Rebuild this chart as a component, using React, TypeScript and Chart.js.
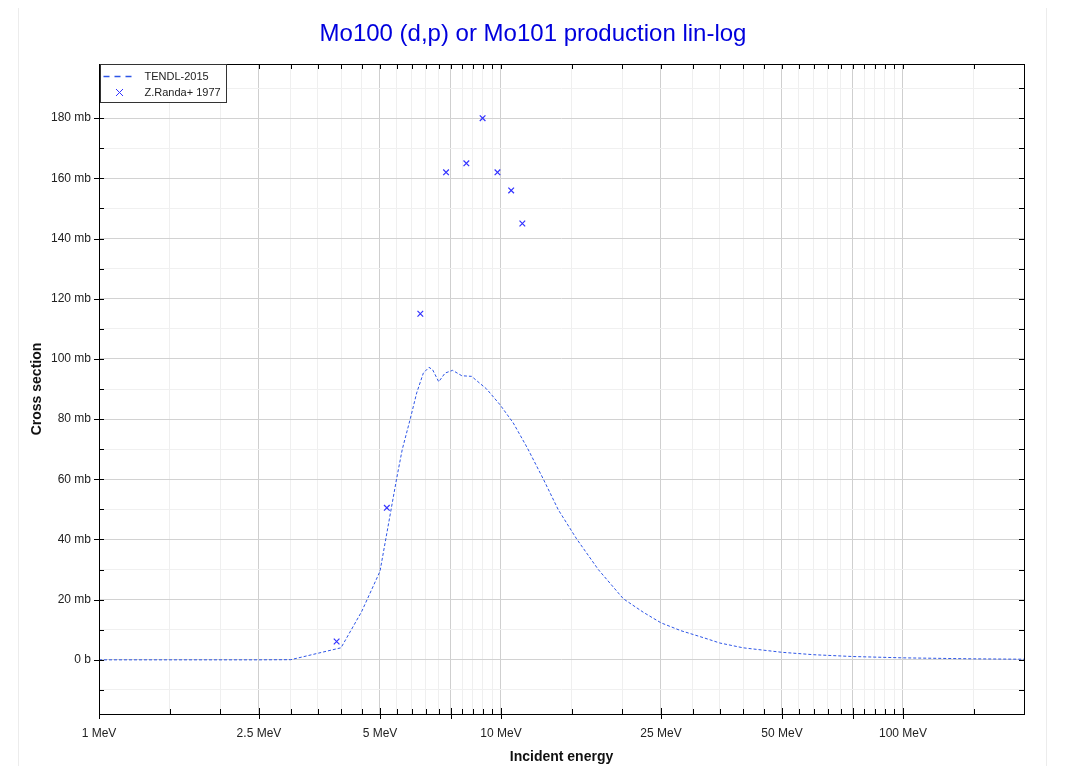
import React, { useEffect, useRef } from 'react';
import { Chart, registerables } from 'chart.js';

Chart.register(...registerables);

const FONT = '"Liberation Sans", Arial, Helvetica, sans-serif';

// TENDL-2015 evaluated curve (energy in MeV, cross section in mb)
const tendlEnergy = [1, 2, 2.5, 3.0, 4.0, 4.5, 5.0, 5.5, 5.68, 5.94, 6.17, 6.41, 6.62, 6.76, 7.0, 7.26, 7.58, 7.99, 8.45, 9.21, 9.94, 10.73, 11.63, 12.74, 13.88, 15.42, 17.46, 20.15, 22.6, 25, 28, 32, 35, 40, 50, 60, 75, 100, 150, 200];
const tendlXs = [0, 0, 0, 0.05, 4.0, 16, 29.4, 60.2, 69.9, 79.8, 88.7, 95.3, 97.2, 96.4, 92.4, 95.3, 96.2, 94.4, 94.2, 90.0, 84.8, 78.7, 70.4, 60.1, 49.9, 40.2, 30.0, 20.3, 15.8, 12.3, 9.7, 7.3, 5.6, 4.0, 2.5, 1.7, 1.1, 0.66, 0.33, 0.2];

// Z.Randa+ 1977 experimental points
const randaEnergy = [3.9, 5.2, 6.3, 7.3, 8.2, 9.0, 9.8, 10.6, 11.3];
const randaXs = [6.1, 50.5, 115, 162, 165, 180, 162, 156, 145];

// Axis ticks
const xTickValues = [1, 1.5, 2, 2.5, 3, 3.5, 4, 4.5, 5, 5.5, 6, 6.5, 7, 7.5, 8, 8.5, 9, 9.5, 10, 15, 20, 25, 30, 35, 40, 45, 50, 55, 60, 65, 70, 75, 80, 85, 90, 95, 100, 150];
const xMajorValues = [1, 2.5, 5, 7.5, 10, 25, 50, 75, 100];
const xLabelValues = [1, 2.5, 5, 10, 25, 50, 100];
const yTickValues = [-10, 0, 10, 20, 30, 40, 50, 60, 70, 80, 90, 100, 110, 120, 130, 140, 150, 160, 170, 180, 190];
const yLabelValues = [0, 20, 40, 60, 80, 100, 120, 140, 160, 180];

const TITLE = 'Mo100 (d,p) or Mo101 production lin-log';
const SERIES_NAMES = ['TENDL-2015', 'Z.Randa+ 1977'];

const LINE_COLOR = 'rgb(45,85,230)';
const MARK_COLOR = 'rgb(50,50,255)';

const isIn = (arr: number[], v: number) => arr.some((a) => Math.abs(a - v) < 1e-6);

const framePlugin = {
  id: 'frameTicks',
  afterDraw(chart: any) {
    const { ctx, chartArea } = chart;
    const { left, right, top, bottom } = chartArea;
    const xs = chart.scales.x;
    const ys = chart.scales.y;
    ctx.save();
    ctx.strokeStyle = '#000';
    ctx.lineWidth = 1;
    ctx.beginPath();
    xTickValues.forEach((v) => {
      const px = Math.round(xs.getPixelForValue(v)) + 0.5;
      if (isIn(xMajorValues, v)) {
        ctx.moveTo(px, bottom - 6);
        ctx.lineTo(px, bottom + 5);
      } else {
        ctx.moveTo(px, bottom - 5);
        ctx.lineTo(px, bottom);
      }
      ctx.moveTo(px, top);
      ctx.lineTo(px, top + 5);
    });
    yTickValues.forEach((v) => {
      const py = Math.round(ys.getPixelForValue(v)) + 0.5;
      if (isIn(yLabelValues, v)) {
        ctx.moveTo(left - 5, py);
        ctx.lineTo(left + 5, py);
      } else {
        ctx.moveTo(left, py);
        ctx.lineTo(left + 5, py);
      }
      ctx.moveTo(right - 5, py);
      ctx.lineTo(right, py);
    });
    ctx.stroke();
    ctx.strokeRect(Math.round(left) + 0.5, Math.round(top) + 0.5, Math.round(right - left), Math.round(bottom - top));

    // legend box
    const lx = Math.round(left) + 1.5;
    const ly = Math.round(top) + 0.5;
    ctx.fillStyle = '#fff';
    ctx.fillRect(lx, ly, 126, 38);
    ctx.strokeStyle = '#333';
    ctx.strokeRect(lx, ly, 126, 38);
    ctx.strokeStyle = LINE_COLOR;
    ctx.lineWidth = 1.5;
    ctx.setLineDash([6, 5]);
    ctx.beginPath();
    ctx.moveTo(lx + 3, ly + 12);
    ctx.lineTo(lx + 31, ly + 12);
    ctx.stroke();
    ctx.setLineDash([]);
    ctx.strokeStyle = MARK_COLOR;
    ctx.lineWidth = 1;
    const cx = lx + 19;
    const cy = ly + 28;
    ctx.beginPath();
    ctx.moveTo(cx - 3.5, cy - 3.5);
    ctx.lineTo(cx + 3.5, cy + 3.5);
    ctx.moveTo(cx + 3.5, cy - 3.5);
    ctx.lineTo(cx - 3.5, cy + 3.5);
    ctx.stroke();
    ctx.fillStyle = '#222';
    ctx.font = '11px ' + FONT;
    ctx.textBaseline = 'middle';
    ctx.textAlign = 'left';
    ctx.fillText(SERIES_NAMES[0], lx + 44, ly + 12);
    ctx.fillText(SERIES_NAMES[1], lx + 44, ly + 28);
    ctx.restore();
  },
};

export default function App() {
  const canvasRef = useRef<HTMLCanvasElement | null>(null);

  useEffect(() => {
    const canvas = canvasRef.current;
    if (!canvas) return;
    Chart.defaults.font.family = FONT;
    const chart = new Chart(canvas, {
      type: 'scatter',
      data: {
        datasets: [
          {
            label: SERIES_NAMES[0],
            data: tendlEnergy.map((e, i) => ({ x: e, y: tendlXs[i] })),
            showLine: true,
            borderColor: LINE_COLOR,
            backgroundColor: LINE_COLOR,
            borderWidth: 1,
            borderDash: [3, 2],
            pointRadius: 0,
            fill: false,
            order: 2,
          },
          {
            label: SERIES_NAMES[1],
            data: randaEnergy.map((e, i) => ({ x: e, y: randaXs[i] })),
            showLine: false,
            pointStyle: 'crossRot',
            pointRadius: 4,
            borderColor: MARK_COLOR,
            backgroundColor: MARK_COLOR,
            borderWidth: 1.2,
            order: 1,
          },
        ],
      },
      options: {
        animation: false,
        responsive: false,
        devicePixelRatio: 1,
        layout: { padding: { left: 0, right: 5, top: 0, bottom: 0 } },
        plugins: {
          legend: { display: false },
          tooltip: { enabled: false },
          title: {
            display: true,
            text: TITLE,
            color: '#0000dd',
            font: { family: FONT, size: 24, weight: 'normal' },
            padding: { top: 20, bottom: 15.2 },
          },
        },
        scales: {
          x: {
            type: 'logarithmic',
            position: 'bottom',
            min: 1,
            max: 200,
            afterBuildTicks: (s: any) => {
              s.ticks = xTickValues.map((v) => ({ value: v }));
            },
            afterFit: (s: any) => {
              s.height = 60;
            },
            ticks: {
              autoSkip: false,
              maxRotation: 0,
              minRotation: 0,
              padding: 12,
              color: '#222',
              font: { family: FONT, size: 12 },
              callback: (v: any) => (isIn(xLabelValues, Number(v)) ? `${Number(v)} MeV` : ''),
            },
            grid: {
              drawTicks: false,
              lineWidth: 1,
              color: (ctx: any) => (ctx.tick && isIn(xMajorValues, ctx.tick.value) ? '#cfcfcf' : '#efefef'),
            },
            border: { display: false },
            title: {
              display: true,
              text: 'Incident energy',
              color: '#111',
              font: { family: FONT, size: 14, weight: 'bold' },
              padding: { top: 0, bottom: 8 },
            },
          },
          y: {
            type: 'linear',
            position: 'left',
            min: -18,
            max: 198,
            afterBuildTicks: (s: any) => {
              s.ticks = yTickValues.map((v) => ({ value: v }));
            },
            afterFit: (s: any) => {
              s.width = 99;
            },
            ticks: {
              padding: 8,
              color: '#222',
              font: { family: FONT, size: 12 },
              callback: (v: any) => {
                const n = Math.round(Number(v));
                if (!isIn(yLabelValues, n)) return '';
                return n === 0 ? '0 b' : `${n} mb`;
              },
            },
            grid: {
              drawTicks: false,
              lineWidth: 1,
              color: (ctx: any) => (ctx.tick && isIn(yLabelValues, Math.round(ctx.tick.value)) ? '#d2d2d2' : '#f0f0f0'),
            },
            border: { display: false },
            title: {
              display: true,
              text: 'Cross section',
              color: '#111',
              font: { family: FONT, size: 14, weight: 'bold' },
              padding: { top: 28.6, bottom: 0 },
            },
          },
          yR: {
            type: 'linear',
            position: 'right',
            min: -18,
            max: 198,
            grid: { display: false, drawTicks: false },
            ticks: { display: false },
            border: { display: false },
            afterFit: (s: any) => {
              s.width = 42;
            },
          },
        },
      },
      plugins: [framePlugin],
    } as any);
    return () => chart.destroy();
  }, []);

  return (
    <div style={{ position: 'relative', width: 1071, height: 774, margin: '-8px', overflow: 'hidden', background: '#fff' }}>
      <div
        style={{
          position: 'absolute',
          left: 18,
          top: 5,
          width: 1029,
          height: 820,
          border: '1px solid #ececec',
          boxSizing: 'border-box',
        }}
      />
      <canvas ref={canvasRef} width={1071} height={774} style={{ position: 'absolute', left: 0, top: 0 }} />
    </div>
  );
}
